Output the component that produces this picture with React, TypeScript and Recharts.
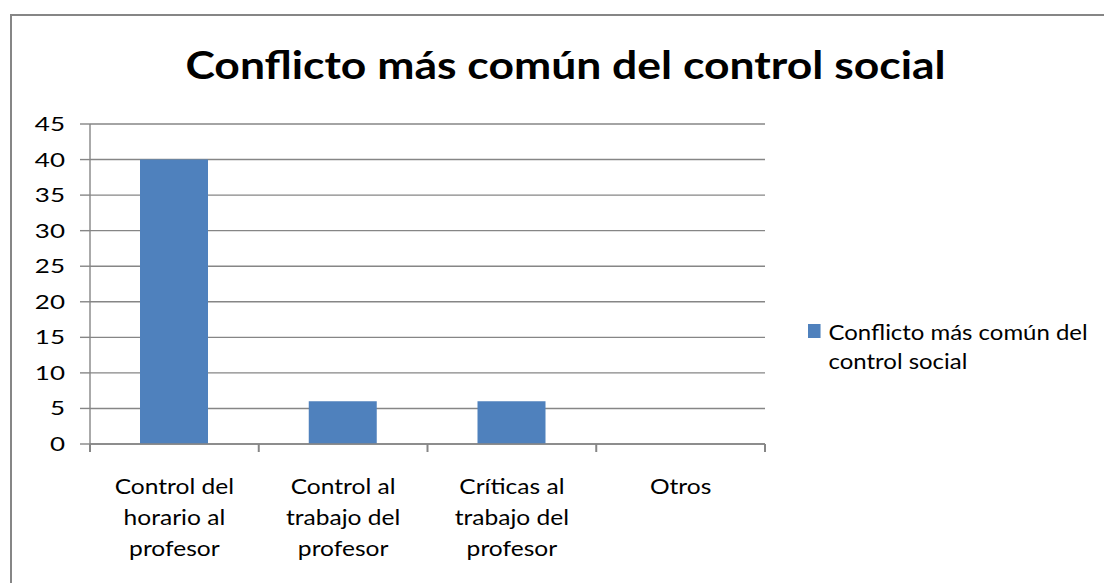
import { BarChart, Bar, XAxis, YAxis, CartesianGrid } from 'recharts'

const categories = [
  'Control del horario al profesor',
  'Control al trabajo del profesor',
  'Críticas al trabajo del profesor',
  'Otros',
]
const categoryLines = [
  ['Control del', 'horario al', 'profesor'],
  ['Control al', 'trabajo del', 'profesor'],
  ['Críticas al', 'trabajo del', 'profesor'],
  ['Otros'],
]
const values = [40, 6, 6, 0]
const yTicks = [0, 5, 10, 15, 20, 25, 30, 35, 40, 45]
const seriesName = 'Conflicto más común del control social'

const data = categories.map((c, i) => ({ name: c, value: values[i] }))

const FONT = "Lato, 'Open Sans', sans-serif"
const GRID = '#868686'
const BLUE = '#4F81BD'

function CategoryTick(props: any) {
  const { x, y, payload, index } = props
  const band = 675 / categories.length
  const lines = categoryLines[index] ?? [payload.value]
  return (
    <g>
      <line x1={x - band / 2} x2={x - band / 2} y1={y - 8} y2={y} stroke={GRID} strokeWidth={2} />
      {index === categories.length - 1 && (
        <line x1={x + band / 2} x2={x + band / 2} y1={y - 8} y2={y} stroke={GRID} strokeWidth={2} />
      )}
      <text transform={`translate(${x},${y + 42}) scale(1.17,1)`} textAnchor="middle" fill="#000" fontSize={21} fontFamily={FONT}>
        {lines.map((l: string, i: number) => (
          <tspan key={i} x={0} dy={i === 0 ? 0 : 31}>{l}</tspan>
        ))}
      </text>
    </g>
  )
}

function ValueTick(props: any) {
  const { x, y, payload } = props
  return (
    <text transform={`translate(${x},${y + 7}) scale(1.3,1)`} textAnchor="end" fill="#000" fontSize={20} fontFamily={FONT}>
      {payload.value}
    </text>
  )
}

export default function App() {
  return (
    <div style={{ position: 'absolute', left: 0, top: 0, width: 1104, height: 583, background: '#fff', overflow: 'hidden' }}>
      <div style={{ position: 'absolute', left: 10, top: 14, width: 1200, height: 700, border: `2px solid ${GRID}` }} />
      <div style={{ position: 'absolute', left: 0, top: 41, width: 1131, textAlign: 'center', fontFamily: FONT, fontWeight: 'bold', fontSize: 39, lineHeight: 'normal', color: '#000', transform: 'scaleX(1.14)', transformOrigin: '565.5px 0' }}>
        {seriesName}
      </div>
      <div style={{ position: 'absolute', left: 0, top: 0 }}>
        <BarChart width={1104} height={583} data={data} margin={{ top: 124, right: 339, bottom: 9, left: 0 }}>
          <CartesianGrid horizontal vertical={false} stroke={GRID} strokeWidth={1.4} />
          <XAxis
            dataKey="name"
            height={130}
            axisLine={{ stroke: GRID, strokeWidth: 1.4 }}
            tickLine={false}
            interval={0}
            tick={<CategoryTick />}
          />
          <YAxis
            width={90}
            domain={[0, 45]}
            ticks={yTicks}
            interval={0}
            axisLine={{ stroke: GRID, strokeWidth: 1.4 }}
            tickLine={{ stroke: GRID, strokeWidth: 1.4 }}
            tickSize={10}
            tickMargin={15}
            tick={<ValueTick />}
          />
          <Bar dataKey="value" name={seriesName} fill={BLUE} barSize={68} isAnimationActive={false} />
        </BarChart>
      </div>
      <div style={{ position: 'absolute', left: 808, top: 317, width: 250, fontFamily: FONT, fontSize: 21, lineHeight: '29px', color: '#000', transform: 'scaleX(1.14)', transformOrigin: '0 0', whiteSpace: 'nowrap' }}>
        <span style={{ display: 'inline-block', width: 11, height: 14, background: BLUE, marginRight: 7, position: 'relative', top: -2 }} />
        <span>Conflicto más común del</span>
        <div style={{ paddingLeft: 18 }}>control social</div>
      </div>
    </div>
  )
}
